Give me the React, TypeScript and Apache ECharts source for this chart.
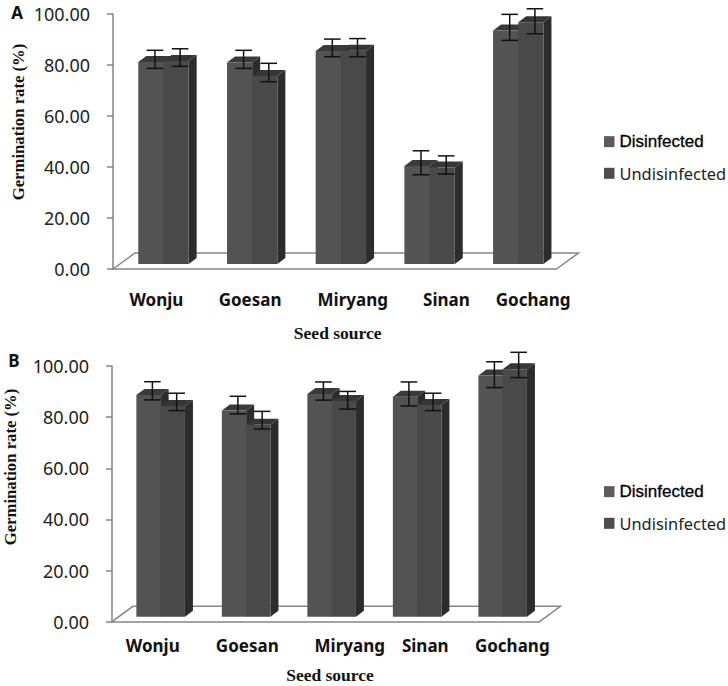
import React, { useEffect, useRef } from "react";
import * as echarts from "echarts";

const categories = ["Wonju", "Goesan", "Miryang", "Sinan", "Gochang"];
const yTicks = { min: 0, max: 100, step: 20 };
const seriesNames = ["Disinfected", "Undisinfected"];

// Panel A
const aDisinfected = [79.2, 79.0, 83.5, 38.4, 91.6];
const aDisinfectedLow = [76.7, 76.7, 81.3, 35.0, 87.7];
const aDisinfectedHigh = [83.8, 83.8, 88.2, 44.4, 97.9];
const aUndisinfected = [79.6, 73.7, 83.6, 37.8, 94.8];
const aUndisinfectedLow = [77.5, 71.5, 81.3, 35.3, 90.3];
const aUndisinfectedHigh = [84.4, 78.7, 88.4, 42.4, 100.1];

// Panel B
const bDisinfected = [86.7, 80.6, 87.1, 86.0, 94.3];
const bDisinfectedLow = [84.8, 79.3, 84.7, 82.4, 89.6];
const bDisinfectedHigh = [91.9, 86.2, 91.8, 91.8, 99.7];
const bUndisinfected = [82.4, 75.1, 84.4, 82.8, 96.8];
const bUndisinfectedLow = [80.6, 73.4, 81.2, 80.6, 93.5];
const bUndisinfectedHigh = [87.4, 80.3, 88.1, 87.4, 103.4];

const C = {
  front: ["#535353", "#494949"],
  top: ["#3a3a3a", "#363636"],
  side: "#2c2c2c",
  axis: "#858585",
  swatch: ["#5c5c5c", "#4c4c4c"],
};
const SANS = "'Noto Sans', sans-serif";
const SERIF = "'Liberation Serif', serif";
const DX = 8, DY = 6, LIFT = 5;

function barRender(slot: number) {
  return (_p: any, api: any) => {
    const band = api.size([1, 0])[0];
    const w = band * 0.284;
    const i = api.value(0);
    const x = api.coord([i, 0])[0] - band / 2 + band * 0.285 + slot * w;
    const base = api.coord([i, 0])[1] - LIFT;
    const top = api.coord([i, api.value(1)])[1] - LIFT;
    return {
      type: "group",
      children: [
        { type: "polygon", shape: { points: [[x + w, top], [x + w + DX, top - DY], [x + w + DX, base - DY], [x + w, base]] }, style: { fill: C.side } },
        { type: "polygon", shape: { points: [[x, top], [x + DX, top - DY], [x + w + DX, top - DY], [x + w, top]] }, style: { fill: C.top[slot] } },
        { type: "rect", shape: { x, y: top, width: w + (slot === 0 ? 0.6 : 0), height: base - top }, style: { fill: C.front[slot] } },
      ],
    };
  };
}

function errRender(slot: number) {
  return (_p: any, api: any) => {
    const band = api.size([1, 0])[0];
    const w = band * 0.284;
    const i = api.value(0);
    const x = api.coord([i, 0])[0] - band / 2 + band * 0.285 + slot * w + w * 0.66;
    const lo = api.coord([i, api.value(1)])[1] - LIFT;
    const hi = api.coord([i, api.value(2)])[1] - LIFT;
    const s = { stroke: "#111111", lineWidth: 1.5 };
    const cap = 8.3;
    return {
      type: "group",
      children: [
        { type: "line", shape: { x1: x, y1: lo, x2: x, y2: hi }, style: s },
        { type: "line", shape: { x1: x - cap, y1: lo, x2: x + cap, y2: lo }, style: s },
        { type: "line", shape: { x1: x - cap, y1: hi, x2: x + cap, y2: hi }, style: s },
      ],
    };
  };
}

function floorRender(skewL: number, skewR: number, rise: number) {
  return (p: any) => {
    const c = p.coordSys;
    const y0 = c.y + c.height;
    const x0 = c.x;
    const x1 = c.x + c.width;
    return {
      type: "polyline",
      shape: { points: [[x0, y0], [x0 + skewL, y0 - rise], [x1 + skewR, y0 - rise], [x1, y0]] },
      style: { stroke: C.axis, lineWidth: 1.5, fill: "none" },
    };
  };
}

function panelSeries(gi: number, vals: number[][], lows: number[][], highs: number[][], floor: number[]) {
  const axes = { xAxisIndex: gi, yAxisIndex: gi, clip: false, coordinateSystem: "cartesian2d" };
  const out: any[] = [
    { type: "custom", name: "floor", ...axes, z: 1, silent: true, data: [[0, 0]], renderItem: floorRender(floor[0], floor[1], floor[2]) },
  ];
  seriesNames.forEach((name, s) => {
    out.push({
      type: "custom", name, ...axes, z: 3 + s, itemStyle: { color: C.swatch[s] },
      encode: { x: 0, y: 1 },
      data: categories.map((_, i) => [i, vals[s][i]]),
      renderItem: barRender(s),
    });
  });
  seriesNames.forEach((name, s) => {
    out.push({
      type: "custom", name: name + " error", ...axes, z: 6,
      encode: { x: 0, y: [1, 2] },
      data: categories.map((_, i) => [i, lows[s][i], highs[s][i]]),
      renderItem: errRender(s),
    });
  });
  return out;
}

function xAxis(gi: number, offsets: number[], margin: number, tick: number) {
  const rich: any = {};
  offsets.forEach((o, i) => {
    rich["c" + i] = {
      fontFamily: SANS, fontWeight: "bold", fontSize: 17, color: "#111111",
      padding: o >= 0 ? [0, 0, 0, 2 * o] : [0, -2 * o, 0, 0],
    };
  });
  return {
    type: "category", gridIndex: gi, data: categories,
    axisLine: { lineStyle: { color: C.axis, width: 1.5 } },
    axisTick: { length: tick, lineStyle: { color: C.axis, width: 1.5 } },
    axisLabel: { margin, interval: 0, hideOverlap: false, formatter: (v: string, i: number) => `{c${i}|${v}}`, rich },
    splitLine: { show: false },
  };
}

function yAxis(gi: number) {
  return {
    type: "value", gridIndex: gi, min: yTicks.min, max: yTicks.max, interval: yTicks.step,
    axisLine: { show: true, lineStyle: { color: C.axis, width: 1.5 } },
    axisTick: { show: true, length: 6, lineStyle: { color: C.axis, width: 1.5 } },
    axisLabel: { margin: 23, fontFamily: SANS, fontSize: 18, color: "#222222", padding: [3, 0, 0, 0], formatter: (v: number) => v.toFixed(2) },
    splitLine: { show: false },
  };
}

function legend(top: number, gap: number) {
  return {
    orient: "vertical", left: 604, top, itemWidth: 10.5, itemHeight: 11, itemGap: gap, padding: 0,
    data: [
      { name: seriesNames[0], icon: "rect", itemStyle: { color: C.swatch[0] }, textStyle: { fontFamily: "'Liberation Sans', sans-serif", fontSize: 17, color: "#000000", textBorderColor: "#000000", textBorderWidth: 0.3 } },
      { name: seriesNames[1], icon: "rect", itemStyle: { color: C.swatch[1] }, textStyle: { fontFamily: SANS, fontSize: 16.4, color: "#222222" } },
    ],
  };
}

function txt(text: string, x: number, y: number, font: string, size: number, rotation = 0, align = "center") {
  return {
    type: "text", x, y, rotation,
    style: { text, font: `bold ${size}px ${font}`, fill: "#111111", align, verticalAlign: "middle" },
  };
}

export default function App() {
  const ref = useRef<HTMLDivElement>(null);
  useEffect(() => {
    document.body.style.margin = "0";
    const chart = echarts.init(ref.current!, undefined, { renderer: "svg" });
    chart.setOption({
      animation: false,
      backgroundColor: "#ffffff",
      tooltip: { show: false },
      grid: [
        { left: 113, top: 14, width: 443.5, height: 255, containLabel: false },
        { left: 112, top: 366, width: 427.5, height: 255.7, containLabel: false },
      ],
      xAxis: [
        xAxis(0, [-1, 4, 18, 23, 21], 22, 6),
        xAxis(1, [-2, 7, 24, 14, 15.5], 15, 2),
      ],
      yAxis: [yAxis(0), yAxis(1)],
      legend: [legend(133, 15), legend(483, 15)],
      series: [
        ...panelSeries(0, [aDisinfected, aUndisinfected], [aDisinfectedLow, aUndisinfectedLow], [aDisinfectedHigh, aUndisinfectedHigh], [22, 22, 16]),
        ...panelSeries(1, [bDisinfected, bUndisinfected], [bDisinfectedLow, bUndisinfectedLow], [bDisinfectedHigh, bUndisinfectedHigh], [21, 21, 15.4]),
      ],
      graphic: [
        txt("A", 17, 12, SANS, 17),
        txt("B", 14, 360, SANS, 17),
        txt("Germination rate (%)", 18, 122, SERIF, 16.7, Math.PI / 2),
        txt("Germination rate (%)", 10, 467, SERIF, 16.7, Math.PI / 2),
        txt("Seed source", 337.7, 333, SERIF, 17.5),
        txt("Seed source", 330, 675, SERIF, 17.5),
      ],
    });
    return () => chart.dispose();
  }, []);
  return <div ref={ref} style={{ width: 728, height: 686 }} />;
}
